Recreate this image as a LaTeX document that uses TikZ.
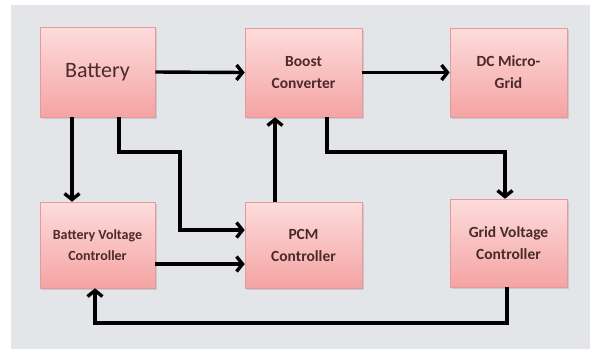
\documentclass[tikz,border=0pt]{standalone}
\usepackage{fontspec}
\setmainfont{Carlito}
\usetikzlibrary{arrows.meta,shadows}
\definecolor{bg}{HTML}{E3E5E9}
\definecolor{boxtop}{HTML}{FDDCDC}
\definecolor{boxbot}{HTML}{F5A3A3}
\definecolor{boxline}{HTML}{E49A9A}
\definecolor{txt}{HTML}{4A2A2A}
\tikzset{
  blk/.style={draw=boxline, line width=0.6pt, top color=boxtop, bottom color=boxbot,
    text=txt, align=center, inner sep=2pt,
    drop shadow={opacity=0.25, shadow xshift=1.5pt, shadow yshift=-1.5pt}},
  lab/.style={font=\fontsize{15.5}{22}\selectfont\bfseries},
  arr/.style={line width=3.4pt, -{Straight Barb[length=6pt,width=15pt,line width=3.4pt]}}
}
\begin{document}
\begin{tikzpicture}[x=1pt,y=-1pt]
\useasboundingbox (0,0) rectangle (590,349);
\fill[white] (0,0) rectangle (590,349);
\fill[bg] (11,5) rectangle (590,349);
\node[blk, minimum width=115pt, minimum height=90pt, font=\fontsize{22}{26}\selectfont] (batt) at (97.5,72) {Battery};
\node[blk, lab, minimum width=117pt, minimum height=89pt] (boost) at (303.5,72.5) {Boost\\Converter};
\node[blk, lab, minimum width=117pt, minimum height=89pt] (dc) at (508.5,72.5) {DC Micro-\\Grid};
\node[blk, minimum width=115pt, minimum height=86pt, font=\fontsize{14}{21}\selectfont\bfseries] (bvc) at (97.5,245) {Battery Voltage\\Controller};
\node[blk, lab, minimum width=117pt, minimum height=86pt] (pcm) at (303.5,245) {PCM\\Controller};
\node[blk, lab, minimum width=117pt, minimum height=88pt] (gvc) at (508.5,243) {Grid Voltage\\Controller};
\coordinate (c1) at (180,152);
\coordinate (c2) at (505,152);
\coordinate (c3) at (507,323);
\draw[arr] (batt.east) -- (boost.west);
\draw[arr] (boost.east) -- (dc.west);
\draw[arr] ([xshift=-25.5pt]batt.south) -- ([xshift=-25.5pt]bvc.north);
\draw[arr] ([xshift=21.5pt]batt.south) |- (c1) |- ([yshift=15pt]pcm.west);
\draw[arr] ([yshift=-19pt]bvc.east) -- ([yshift=-19pt]pcm.west);
\draw[arr] ([xshift=-28.5pt]pcm.north) -- ([xshift=-28.5pt]boost.south);
\draw[arr] ([xshift=23.5pt]boost.south) |- (c2) -- ([xshift=-3.5pt]gvc.north);
\draw[arr] ([xshift=-1.5pt]gvc.south) -- (c3) -| ([xshift=-2.5pt]bvc.south);
\end{tikzpicture}
\end{document}
